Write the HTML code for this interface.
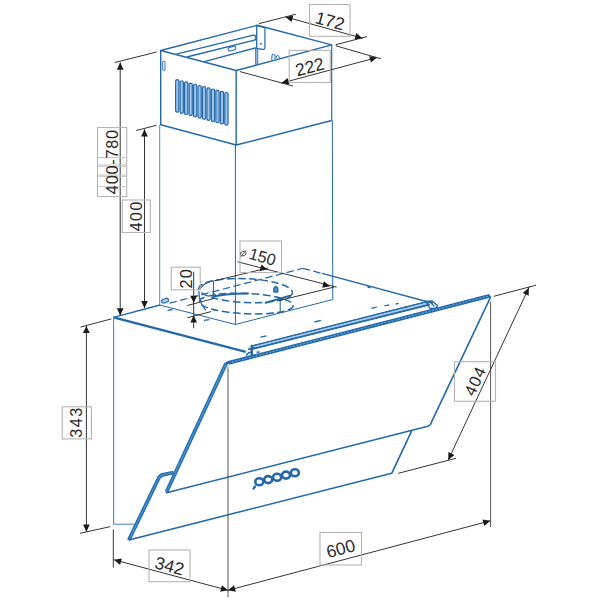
<!DOCTYPE html>
<html><head><meta charset="utf-8"><style>
html,body{margin:0;padding:0;background:#fff;}
svg{display:block;}
text{font-family:"Liberation Sans",sans-serif;}
</style></head><body>
<svg width="600" height="600" viewBox="0 0 600 600">
<rect width="600" height="600" fill="#fff"/>
<polygon points="160.7,50.5 257.2,25.3 331.7,44.9 236.2,70.5" fill="none" stroke="#2369a9" stroke-width="1.4" stroke-linejoin="round" />
<polyline points="160.7,50.5 160.7,124.8 236.2,145.0 236.2,70.5" fill="none" stroke="#2369a9" stroke-width="1.4" stroke-linejoin="round" />
<polyline points="236.2,145.0 331.7,120.5" fill="none" stroke="#2369a9" stroke-width="1.4" stroke-linejoin="round" />
<line x1="331.7" y1="44.9" x2="331.7" y2="120.5" stroke="#2369a9" stroke-width="1.15" />
<line x1="176.3" y1="54.2" x2="253.3" y2="35.2" stroke="#2369a9" stroke-width="1.3" />
<line x1="186.8" y1="57.0" x2="253.3" y2="40.4" stroke="#2369a9" stroke-width="1.3" />
<path d="M253.3,35.2 A2.6,2.6 0 0 1 253.3,40.4" fill="none" stroke="#2369a9" stroke-width="1.3" stroke-linejoin="round" stroke-linecap="round" />
<line x1="204.3" y1="61.6" x2="256.7" y2="47.6" stroke="#2369a9" stroke-width="1.3" />
<path d="M257.4,25.6 L264.9,27.6 L264.9,47.6 Q264.9,49.6 262.9,49.3 L257.6,48.6" fill="none" stroke="#2369a9" stroke-width="1.2" stroke-linejoin="round" stroke-linecap="round" />
<circle cx="260.8" cy="43.8" r="1.0" fill="#2369a9"/>
<rect x="255.5" y="48.4" width="2.4" height="16" fill="#8ab4dc" stroke="#2369a9" stroke-width="0.7"/>
<line x1="256.7" y1="25.4" x2="256.7" y2="48.4" stroke="#2369a9" stroke-width="1.3" />
<rect x="-4" y="-1.8" width="8" height="3.6" rx="1.8" transform="translate(232,48.6) rotate(-15)" fill="none" stroke="#2369a9" stroke-width="1.1"/>
<path d="M163,61.5 Q164,60.8 165,61.5 L165,70 Q164,71 163,70 Z" fill="none" stroke="#2369a9" stroke-width="0.9" stroke-linejoin="round" stroke-linecap="round" />
<path d="M271.8,59.5 L272,55 Q273.5,53.5 275,55 L275,58.5 M276,58 L276.5,56 Q278,55 279,56.5 L279.5,57.5" fill="none" stroke="#2369a9" stroke-width="1.0" stroke-linejoin="round" stroke-linecap="round" />
<rect x="175.60" y="79.60" width="3.3" height="32.60" rx="1.6" fill="#9cc1e6" stroke="#2369a9" stroke-width="1.15"/>
<rect x="180.07" y="80.77" width="3.3" height="32.60" rx="1.6" fill="#9cc1e6" stroke="#2369a9" stroke-width="1.15"/>
<rect x="184.54" y="81.94" width="3.3" height="32.60" rx="1.6" fill="#9cc1e6" stroke="#2369a9" stroke-width="1.15"/>
<rect x="189.01" y="83.11" width="3.3" height="32.60" rx="1.6" fill="#9cc1e6" stroke="#2369a9" stroke-width="1.15"/>
<rect x="193.48" y="84.28" width="3.3" height="32.60" rx="1.6" fill="#9cc1e6" stroke="#2369a9" stroke-width="1.15"/>
<rect x="197.95" y="85.46" width="3.3" height="32.60" rx="1.6" fill="#9cc1e6" stroke="#2369a9" stroke-width="1.15"/>
<rect x="202.42" y="86.63" width="3.3" height="32.60" rx="1.6" fill="#9cc1e6" stroke="#2369a9" stroke-width="1.15"/>
<rect x="206.89" y="87.80" width="3.3" height="32.60" rx="1.6" fill="#9cc1e6" stroke="#2369a9" stroke-width="1.15"/>
<rect x="211.36" y="88.97" width="3.3" height="32.60" rx="1.6" fill="#9cc1e6" stroke="#2369a9" stroke-width="1.15"/>
<rect x="215.83" y="90.14" width="3.3" height="32.60" rx="1.6" fill="#9cc1e6" stroke="#2369a9" stroke-width="1.15"/>
<rect x="220.30" y="91.31" width="3.3" height="32.60" rx="1.6" fill="#9cc1e6" stroke="#2369a9" stroke-width="1.15"/>
<rect x="224.77" y="92.48" width="3.3" height="32.60" rx="1.6" fill="#9cc1e6" stroke="#2369a9" stroke-width="1.15"/>
<line x1="159.7" y1="124.8" x2="159.7" y2="305" stroke="#4d8cc8" stroke-width="1.0" />
<line x1="235.4" y1="145" x2="235.4" y2="324.5" stroke="#2369a9" stroke-width="1.0" />
<line x1="332.3" y1="120.5" x2="332.8" y2="299.5" stroke="#2369a9" stroke-width="1.0" />
<polyline points="159.7,305 235.4,324.5 332.8,299.5" fill="none" stroke="#2369a9" stroke-width="1.0" stroke-linejoin="round" />
<line x1="169.5" y1="303.2" x2="302.7" y2="268.3" stroke="#2369a9" stroke-width="1.25" stroke-dasharray="7.5,3.5"/>
<rect x="-3.6" y="-1.9" width="7.2" height="3.8" rx="1.9" transform="translate(165,300.7) rotate(-20)" fill="#a9cbea" stroke="#2369a9" stroke-width="1.1"/>
<line x1="302.7" y1="268.3" x2="322" y2="273.4" stroke="#2369a9" stroke-width="1.25" stroke-dasharray="7.5,3.5"/>
<ellipse cx="245.6" cy="290.6" rx="46.9" ry="11.9" transform="rotate(2.5 245.6 290.6)" fill="none" stroke="#2369a9" stroke-width="1.5" stroke-dasharray="7.5,3.5"/>
<ellipse cx="246.3" cy="303.6" rx="47" ry="10.2" transform="rotate(2.5 246.3 303.6)" fill="none" stroke="#2369a9" stroke-width="1.5" stroke-dasharray="7.5,3.5"/>
<path d="M198.8,291.5 Q199.2,303 205.5,309.8" fill="none" stroke="#2369a9" stroke-width="1.3" stroke-linejoin="round" stroke-linecap="round" />
<path d="M200,289 Q203,283.5 212,280.8" fill="none" stroke="#2369a9" stroke-width="1.3" stroke-linejoin="round" stroke-linecap="round" />
<path d="M213.5,296.5 Q228,293.2 248,293.4" fill="none" stroke="#2369a9" stroke-width="2.0" stroke-linejoin="round" stroke-linecap="round" />
<line x1="213.5" y1="281.2" x2="213.5" y2="296.5" stroke="#2369a9" stroke-width="1.1" />
<line x1="280.2" y1="299" x2="280.2" y2="312.5" stroke="#2369a9" stroke-width="1.1" />
<path d="M212.5,296 Q212.5,293.8 214.2,293.6 Q215.8,293.8 215.6,296" fill="none" stroke="#2369a9" stroke-width="1.0" stroke-linejoin="round" stroke-linecap="round" />
<path d="M274,292 Q273.4,287 275.8,286.8 Q278.2,287 277.6,292 Z" fill="#5d97cf" stroke="#2369a9" stroke-width="1.6" stroke-linejoin="round" stroke-linecap="round" />
<line x1="265" y1="303" x2="290" y2="295.6" stroke="#2369a9" stroke-width="2.0" />
<line x1="113.5" y1="317.4" x2="160" y2="305.0" stroke="#2369a9" stroke-width="1.4" />
<line x1="322" y1="273.4" x2="433" y2="303.3" stroke="#2369a9" stroke-width="1.4" />
<line x1="367.5" y1="286.6" x2="370.5" y2="287.6" stroke="#2369a9" stroke-width="2.0" />
<line x1="113.5" y1="317.4" x2="245.8" y2="351.9" stroke="#2369a9" stroke-width="2.3" />
<polygon points="252.5,345.8 427,301.6 429.5,304.6 252.5,349.0" fill="#a9cbea" stroke="#2369a9" stroke-width="1.0" stroke-linejoin="round" />
<line x1="252.5" y1="345.8" x2="427" y2="301.6" stroke="#2369a9" stroke-width="1.1" />
<line x1="252.5" y1="349.0" x2="429.5" y2="304.6" stroke="#2369a9" stroke-width="1.6" />
<path d="M426,301.5 L432,301 L437.5,305.5 L435.5,308.3 L430,308.5 Z M431.5,303.6 L434,306" fill="none" stroke="#2369a9" stroke-width="1.4" stroke-linejoin="round" stroke-linecap="round" />
<line x1="251.8" y1="344.8" x2="251.8" y2="355.8" stroke="#2369a9" stroke-width="2.4" />
<line x1="248.3" y1="349.2" x2="255.3" y2="347.8" stroke="#2369a9" stroke-width="2.0" />
<path d="M246.6,355.0 Q248.5,352.5 250.5,352.3" fill="none" stroke="#2369a9" stroke-width="1.6" stroke-linejoin="round" stroke-linecap="round" />
<line x1="256.6" y1="352.6" x2="259.6" y2="351.8" stroke="#2369a9" stroke-width="1.6" />
<line x1="113.6" y1="317.6" x2="113.6" y2="524.2" stroke="#4d8cc8" stroke-width="1.1" />
<line x1="113.6" y1="524.2" x2="135.5" y2="524.2" stroke="#4d8cc8" stroke-width="1.1" />
<line x1="228.5" y1="362.9" x2="489.6" y2="295.8" stroke="#2369a9" stroke-width="3.8" />
<line x1="228.5" y1="362.9" x2="489.6" y2="295.8" stroke="#6aa6dc" stroke-width="1.1" stroke-dasharray="2,1.5"/>
<path d="M225.8,364.6 Q227,361.8 230,362.4" fill="none" stroke="#2369a9" stroke-width="2.6" stroke-linejoin="round" stroke-linecap="round" />
<line x1="226.2" y1="363.3" x2="166.5" y2="492.0" stroke="#2369a9" stroke-width="3.8" />
<line x1="226.2" y1="363.3" x2="166.5" y2="492.0" stroke="#4a94d2" stroke-width="1.3" />
<path d="M489.0,295.9 Q490.9,296.3 490.0,298.4 L430.3,424.6 Q429.6,425.9 427.8,426.2 L166.5,492.8" fill="none" stroke="#2369a9" stroke-width="1.6" stroke-linejoin="round" stroke-linecap="round" />
<polyline points="173.5,472.5 161.5,475.2 159,477.5 128.8,540" fill="none" stroke="#2369a9" stroke-width="3.8" stroke-linejoin="round" />
<polyline points="172.5,472.7 161.5,475.2 159,477.5 129.5,538.5" fill="none" stroke="#4a94d2" stroke-width="1.3" stroke-linejoin="round" />
<polyline points="128.8,540 391.7,473.3 411.7,430.8" fill="none" stroke="#2369a9" stroke-width="1.6" stroke-linejoin="round" />
<ellipse cx="259.3" cy="481.8" rx="4.0" ry="3.5" fill="none" stroke="#2369a9" stroke-width="2.6"/>
<ellipse cx="268.2" cy="479.6" rx="4.0" ry="3.5" fill="none" stroke="#2369a9" stroke-width="2.6"/>
<ellipse cx="277.1" cy="477.3" rx="4.0" ry="3.5" fill="none" stroke="#2369a9" stroke-width="2.6"/>
<ellipse cx="286.0" cy="475.1" rx="4.0" ry="3.5" fill="none" stroke="#2369a9" stroke-width="2.6"/>
<ellipse cx="294.9" cy="472.8" rx="4.0" ry="3.5" fill="none" stroke="#2369a9" stroke-width="2.6"/>
<line x1="253.5" y1="488.5" x2="255" y2="486.5" stroke="#2369a9" stroke-width="2.2" stroke-linecap="round"/>
<line x1="260.5" y1="337.2" x2="266.5" y2="335.8" stroke="#2369a9" stroke-width="1.3" />
<line x1="314.5" y1="322" x2="321" y2="320.4" stroke="#2369a9" stroke-width="1.3" />
<line x1="371.5" y1="308.3" x2="376.8" y2="307.2" stroke="#2369a9" stroke-width="1.3" />
<line x1="384.5" y1="305.8" x2="389.2" y2="304.8" stroke="#2369a9" stroke-width="1.3" />
<line x1="395.6" y1="304" x2="398.7" y2="303.3" stroke="#2369a9" stroke-width="1.3" />
<line x1="404" y1="307.6" x2="407.5" y2="306.8" stroke="#2369a9" stroke-width="1.3" />
<line x1="167.5" y1="310.3" x2="172.5" y2="309.5" stroke="#2369a9" stroke-width="1.3" />
<line x1="204" y1="320.3" x2="209.5" y2="319.6" stroke="#2369a9" stroke-width="1.3" />
<line x1="259" y1="23.6" x2="296" y2="14.2" stroke="#353535" stroke-width="1.0" />
<line x1="335.8" y1="44.7" x2="367" y2="36.6" stroke="#353535" stroke-width="1.0" />
<line x1="285.5" y1="16.9" x2="362.4" y2="38.2" stroke="#353535" stroke-width="1.0" />
<polygon points="285.50,16.90 293.33,15.59 291.54,22.05" fill="#1a1a1a"/>
<polygon points="362.40,38.20 354.57,39.51 356.36,33.05" fill="#1a1a1a"/>
<rect x="309.5" y="4.5" width="40.5" height="31.799999999999997" fill="none" stroke="#b4b4b4" stroke-width="1.1"/>
<text x="0.0" y="0" transform="translate(330,21) rotate(15) scale(1.0,1.0)" text-anchor="middle" dominant-baseline="central" font-size="17.5" fill="#2a2a2a" style="">172</text>
<line x1="240" y1="71.6" x2="293" y2="86.0" stroke="#353535" stroke-width="1.0" />
<line x1="335.8" y1="45.8" x2="381" y2="58.8" stroke="#353535" stroke-width="1.0" />
<line x1="281.5" y1="83.1" x2="377" y2="57.5" stroke="#353535" stroke-width="1.0" />
<polygon points="281.50,83.10 287.59,78.00 289.32,84.47" fill="#1a1a1a"/>
<polygon points="377.00,57.50 370.91,62.60 369.18,56.13" fill="#1a1a1a"/>
<rect x="289.2" y="50.4" width="41.10000000000002" height="32.1" fill="none" stroke="#b4b4b4" stroke-width="1.1"/>
<text x="0.0" y="0" transform="translate(309.8,67) rotate(-15) scale(1.0,1.0)" text-anchor="middle" dominant-baseline="central" font-size="17.5" fill="#2a2a2a" style="">222</text>
<line x1="114.7" y1="62.5" x2="156.7" y2="52" stroke="#353535" stroke-width="1.0" />
<line x1="120.2" y1="62.5" x2="120.2" y2="315.5" stroke="#353535" stroke-width="1.0" />
<polygon points="120.20,62.50 123.55,69.70 116.85,69.70" fill="#1a1a1a"/>
<polygon points="120.20,315.40 116.85,308.20 123.55,308.20" fill="#1a1a1a"/>
<rect x="97.5" y="127.5" width="29.200000000000003" height="69.0" fill="none" stroke="#b4b4b4" stroke-width="1.1"/>
<line x1="97.5" y1="157.5" x2="126.7" y2="157.5" stroke="#c4c4c4" stroke-width="1.0" />
<line x1="97.5" y1="165" x2="126.7" y2="165" stroke="#c4c4c4" stroke-width="1.0" />
<line x1="97.5" y1="166.3" x2="126.7" y2="166.3" stroke="#c4c4c4" stroke-width="1.0" />
<line x1="97.5" y1="175" x2="126.7" y2="175" stroke="#c4c4c4" stroke-width="1.0" />
<line x1="97.5" y1="176.3" x2="126.7" y2="176.3" stroke="#c4c4c4" stroke-width="1.0" />
<line x1="97.5" y1="186.7" x2="126.7" y2="186.7" stroke="#c4c4c4" stroke-width="1.0" />
<text x="0.375" y="0" transform="translate(112.2,162) rotate(-90) scale(1.0,1.0)" text-anchor="middle" dominant-baseline="central" font-size="16.3" fill="#2a2a2a" style="letter-spacing:0.75px;">400-780</text>
<line x1="136.3" y1="130.5" x2="156.5" y2="125.3" stroke="#353535" stroke-width="1.0" />
<line x1="144.5" y1="129.2" x2="144.5" y2="308" stroke="#353535" stroke-width="1.0" />
<polygon points="144.50,129.20 147.85,136.40 141.15,136.40" fill="#1a1a1a"/>
<polygon points="144.50,308.30 141.15,301.10 147.85,301.10" fill="#1a1a1a"/>
<rect x="122.2" y="200" width="28.10000000000001" height="32.5" fill="none" stroke="#b4b4b4" stroke-width="1.1"/>
<text x="0.75" y="0" transform="translate(136.2,216.5) rotate(-90) scale(1.0,1.0)" text-anchor="middle" dominant-baseline="central" font-size="16" fill="#2a2a2a" style="letter-spacing:1.5px;">400</text>
<line x1="193.7" y1="271.7" x2="193.7" y2="328.3" stroke="#353535" stroke-width="1.0" />
<polygon points="193.70,303.00 190.35,295.80 197.05,295.80" fill="#1a1a1a"/>
<polygon points="193.70,315.20 197.05,322.40 190.35,322.40" fill="#1a1a1a"/>
<line x1="187.3" y1="305.5" x2="214" y2="298.5" stroke="#353535" stroke-width="1.0" />
<line x1="187.3" y1="317.8" x2="211" y2="311.6" stroke="#353535" stroke-width="1.0" />
<rect x="171.3" y="267.2" width="28.899999999999977" height="22.600000000000023" fill="none" stroke="#b4b4b4" stroke-width="1.1"/>
<text x="0.6" y="0" transform="translate(185.5,278.8) rotate(-90) scale(1.0,1.0)" text-anchor="middle" dominant-baseline="central" font-size="16.3" fill="#2a2a2a" style="letter-spacing:1.2px;">20</text>
<line x1="213.5" y1="281" x2="268" y2="268" stroke="#353535" stroke-width="1.0" />
<line x1="279" y1="300.6" x2="334" y2="287.1" stroke="#353535" stroke-width="1.0" />
<line x1="237.5" y1="261.8" x2="336.7" y2="287.2" stroke="#353535" stroke-width="1.0" />
<polygon points="267.50,269.60 259.69,271.04 261.37,264.56" fill="#1a1a1a"/>
<polygon points="330.00,286.30 322.19,287.73 323.87,281.25" fill="#1a1a1a"/>
<rect x="240" y="241" width="41.5" height="31.5" fill="none" stroke="#b4b4b4" stroke-width="1.1"/>
<text x="0.0" y="0" transform="translate(262.6,256.6) rotate(16) scale(1.0,1.0)" text-anchor="middle" dominant-baseline="central" font-size="16.3" fill="#2a2a2a" style="">150</text>
<ellipse cx="243.3" cy="253.6" rx="2.9" ry="2.2" transform="rotate(-20 243.3 253.6)" fill="none" stroke="#444" stroke-width="0.9"/>
<line x1="240.6" y1="256.8" x2="246.2" y2="250.2" stroke="#444" stroke-width="0.9" />
<line x1="80.5" y1="327.1" x2="111.3" y2="318.9" stroke="#353535" stroke-width="1.0" />
<line x1="80" y1="533.3" x2="110" y2="526.7" stroke="#353535" stroke-width="1.0" />
<line x1="86.4" y1="325.9" x2="86.4" y2="531.8" stroke="#353535" stroke-width="1.0" />
<polygon points="86.40,325.90 89.75,333.10 83.05,333.10" fill="#1a1a1a"/>
<polygon points="86.40,531.70 83.05,524.50 89.75,524.50" fill="#1a1a1a"/>
<rect x="62.25" y="406.8" width="29.150000000000006" height="32.099999999999966" fill="none" stroke="#b4b4b4" stroke-width="1.1"/>
<text x="0.75" y="0" transform="translate(76.2,422.7) rotate(-90) scale(1.0,1.0)" text-anchor="middle" dominant-baseline="central" font-size="16.3" fill="#2a2a2a" style="letter-spacing:1.5px;">343</text>
<line x1="113.3" y1="529.5" x2="113.3" y2="567.5" stroke="#353535" stroke-width="1.0" />
<line x1="114" y1="559.8" x2="228" y2="590.3" stroke="#353535" stroke-width="1.0" />
<polygon points="114.00,559.80 121.82,558.42 120.09,564.90" fill="#1a1a1a"/>
<polygon points="228.00,590.30 220.18,591.68 221.91,585.21" fill="#1a1a1a"/>
<rect x="149" y="550" width="41" height="31.700000000000045" fill="none" stroke="#b4b4b4" stroke-width="1.1"/>
<text x="0.0" y="0" transform="translate(169.5,566) rotate(15) scale(1.0,1.0)" text-anchor="middle" dominant-baseline="central" font-size="17.5" fill="#2a2a2a" style="">342</text>
<line x1="228" y1="366.8" x2="228" y2="597.3" stroke="#555" stroke-width="1.0" />
<line x1="490.6" y1="301.5" x2="490.6" y2="527" stroke="#555" stroke-width="1.0" />
<line x1="228" y1="590.3" x2="490.4" y2="520.8" stroke="#353535" stroke-width="1.0" />
<polygon points="228.00,590.30 234.10,585.22 235.82,591.69" fill="#1a1a1a"/>
<polygon points="490.40,520.80 484.30,525.89 482.58,519.41" fill="#1a1a1a"/>
<rect x="320" y="532.5" width="41.5" height="32.5" fill="none" stroke="#b4b4b4" stroke-width="1.1"/>
<text x="0.0" y="0" transform="translate(340.75,548.75) rotate(-15) scale(1.0,1.0)" text-anchor="middle" dominant-baseline="central" font-size="17.5" fill="#2a2a2a" style="">600</text>
<line x1="493.8" y1="296.3" x2="536" y2="285.2" stroke="#353535" stroke-width="1.0" />
<line x1="398.3" y1="473.3" x2="456" y2="458.3" stroke="#353535" stroke-width="1.0" />
<line x1="448" y1="460.5" x2="529.5" y2="286.3" stroke="#353535" stroke-width="1.0" />
<polygon points="528.80,287.80 528.78,295.74 522.71,292.90" fill="#1a1a1a"/>
<polygon points="448.30,460.00 448.33,452.06 454.39,454.91" fill="#1a1a1a"/>
<rect x="454.5" y="361.7" width="41.0" height="39.55000000000001" fill="none" stroke="#b4b4b4" stroke-width="1.1"/>
<text x="0.5" y="0" transform="translate(474.8,381.3) rotate(-64.7) scale(1.0,1.0)" text-anchor="middle" dominant-baseline="central" font-size="16.5" fill="#2a2a2a" style="letter-spacing:1.0px;">404</text>
</svg>
</body></html>
